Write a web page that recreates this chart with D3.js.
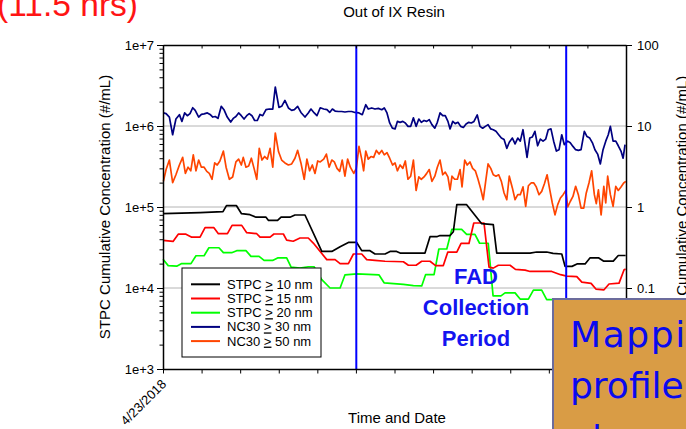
<!DOCTYPE html>
<html><head><meta charset="utf-8">
<script src="https://cdn.jsdelivr.net/npm/d3@7"></script>
<style>
html,body{margin:0;padding:0;background:#fff;overflow:hidden;}
svg{display:block;font-family:"Liberation Sans",Arial,sans-serif;}
</style></head><body>
<svg id="chart" width="686" height="429"></svg>
<script>
// ---------------- DATA ----------------
// NC30 series (right axis, #/mL); hours since 4/23/2018 start
const nc30Hours = [0.02,0.16,0.33,0.50,0.67,0.85,0.98,1.12,1.26,1.40,
  1.54,1.67,1.85,1.99,2.13,2.30,2.44,2.58,2.71,2.85,
  3.02,3.16,3.33,3.51,3.64,3.78,3.92,4.06,4.20,4.34,
  4.47,4.61,4.75,4.89,5.03,5.17,5.34,5.51,5.69,5.82,
  6.01,6.15,6.32,6.50,6.67,6.81,6.98,7.15,7.36,7.53,
  7.67,7.84,7.98,8.15,8.33,8.50,8.64,8.78,8.92,9.09,
  9.26,9.43,9.61,9.78,9.95,10.16,10.33,10.51,10.64,10.82,
  10.99,11.16,11.34,11.47,11.61,11.75,11.89,12.03,12.15,12.29,
  12.43,12.56,12.70,12.84,12.98,13.12,13.26,13.39,13.53,13.67,
  13.80,13.94,14.09,14.22,14.36,14.50,14.63,14.77,14.88,15.02,
  15.15,15.29,15.43,15.57,15.71,15.85,15.98,16.12,16.29,16.43,
  16.57,16.71,16.85,16.99,17.12,17.26,17.40,17.54,17.68,17.82,
  17.95,18.11,18.25,18.39,18.52,18.66,18.87,19.01,19.14,19.28,
  19.42,19.56,19.70,19.84,19.97,20.11,20.25,20.39,20.53,20.67,
  20.80,20.98,21.11,21.25,21.39,21.53,21.67,21.84,21.98,22.12,
  22.26,22.39,22.53,22.67,22.81,22.95,23.08,23.19,23.33,23.47,
  23.60,23.74,23.85,23.95];
const nc30Values = [14.5,14.2,12.9,7.8,12.2,13.8,11.4,14.5,13.4,14.2,
  16.8,15.6,12.9,13.9,14.1,14.5,13.9,12.9,13.1,12.4,
  17.5,15.9,12.9,11.2,12.4,13.1,14.5,13.4,12.2,13.4,
  14.2,13.4,11.7,11.7,13.9,13.4,15.9,16.2,16.2,30.3,
  17.0,17.5,20.7,16.7,15.6,15.9,17.5,14.7,12.9,14.5,
  16.2,14.5,13.4,16.8,16.2,15.9,14.7,16.2,15.3,15.1,
  15.1,14.9,15.1,15.1,14.7,14.5,13.8,18.3,16.2,16.7,
  16.2,16.5,15.9,16.7,14.5,10.9,9.4,9.2,11.4,11.1,
  11.4,10.9,9.9,9.9,12.6,9.9,12.2,11.1,11.7,11.4,
  12.0,10.4,9.4,11.1,14.5,13.4,13.4,11.4,9.2,11.4,
  10.7,11.1,9.9,9.6,10.6,11.1,10.9,11.4,13.7,9.9,
  9.4,9.9,10.4,9.2,9.0,8.6,7.8,7.1,6.8,5.3,
  6.3,7.1,6.0,7.1,6.5,9.0,4.1,7.1,7.3,8.6,
  5.7,6.9,6.5,6.9,9.0,9.2,6.5,4.9,5.1,7.8,
  5.9,6.5,6.2,5.6,5.1,5.0,5.1,8.6,7.4,7.1,
  6.2,5.1,4.5,3.4,5.1,6.5,7.8,9.9,6.5,6.5,
  5.7,4.9,4.0,5.9];
const nc50Hours = [0.02,0.16,0.33,0.50,0.67,0.85,1.02,1.16,1.30,1.44,
  1.57,1.71,1.85,1.99,2.13,2.27,2.40,2.54,2.68,2.81,
  2.95,3.13,3.27,3.44,3.61,3.78,3.92,4.06,4.16,4.30,
  4.44,4.58,4.72,4.86,4.99,5.13,5.27,5.41,5.55,5.69,
  5.82,5.99,6.15,6.32,6.50,6.67,6.84,6.98,7.15,7.32,
  7.46,7.60,7.74,7.88,8.02,8.15,8.33,8.47,8.61,8.75,
  8.88,9.02,9.16,9.29,9.43,9.57,9.71,9.89,10.02,10.16,
  10.30,10.40,10.51,10.64,10.78,10.92,11.06,11.20,11.34,11.47,
  11.61,11.75,11.90,12.03,12.15,12.29,12.43,12.56,12.70,12.84,
  12.98,13.12,13.26,13.39,13.53,13.67,13.80,13.94,14.09,14.22,
  14.36,14.50,14.63,14.77,14.88,14.98,15.12,15.26,15.40,15.50,
  15.64,15.77,15.91,16.05,16.19,16.33,16.47,16.60,16.74,16.85,
  16.99,17.12,17.26,17.40,17.54,17.68,17.82,17.95,18.11,18.25,
  18.39,18.52,18.66,18.80,18.94,19.08,19.22,19.35,19.49,19.63,
  19.77,19.91,20.05,20.18,20.32,20.46,20.60,20.74,20.88,20.98,
  21.11,21.25,21.39,21.53,21.67,21.81,21.94,22.08,22.22,22.36,
  22.46,22.57,22.71,22.85,22.95,23.05,23.19,23.33,23.47,23.60,
  23.74,23.88,23.99];
const nc50Values = [2.07,2.9,3.8,2.0,2.5,3.3,4.1,2.6,3.1,2.8,
  4.4,2.8,3.8,3.1,3.1,2.75,2.6,2.2,3.5,3.3,
  3.7,4.9,3.1,2.2,2.35,3.6,3.9,3.3,4.1,3.1,
  3.2,4.0,3.0,2.2,5.3,3.8,4.2,3.9,5.3,3.1,
  8.2,4.8,3.8,3.5,3.3,3.4,4.0,5.0,3.5,2.2,
  3.9,2.8,3.3,2.6,3.7,3.6,3.9,4.5,3.1,3.8,
  3.6,3.0,2.75,3.8,2.4,3.9,3.1,2.6,3.0,5.6,
  3.9,2.8,4.9,3.9,4.2,4.1,5.0,4.5,5.0,4.4,
  4.7,4.0,3.3,3.5,2.8,3.3,3.0,3.7,2.2,2.4,
  3.8,1.6,2.35,2.2,2.35,2.6,2.9,2.07,2.4,3.1,
  3.8,2.5,2.7,2.35,1.63,2.4,2.2,2.2,2.9,1.77,
  3.8,3.3,3.6,3.0,2.8,2.2,1.67,1.23,2.2,3.4,
  3.0,2.5,2.4,2.5,2.07,1.49,1.23,2.4,1.72,1.23,
  1.42,1.42,1.77,1.02,1.83,1.98,1.98,1.77,1.42,1.56,
  1.94,2.5,1.63,1.12,0.80,1.07,1.29,1.42,1.6,1.0,
  1.17,1.35,1.8,1.42,0.97,0.97,1.49,1.98,2.8,1.42,
  1.1,1.63,0.80,1.8,1.12,2.4,1.42,1.02,1.8,1.6,
  1.77,1.98,2.07];

// STPC series (left axis, #/mL), hours since 4/23/2018 start
const stpc10Hours = [0,1.92,3.11,3.29,3.81,4.07,4.51,4.82,5.34,5.47,5.94,6.12,6.58,6.84,7.36,8.23,8.75,9.18,9.61,10.04,10.30,10.73,10.99,11.51,11.77,12.11,12.29,13.58,13.84,14.19,14.36,14.88,15.05,15.23,15.74,16.52,17.12,17.30,19.03,19.37,19.89,20.22,20.67,20.84,21.20,21.46,21.88,22.14,22.57,22.83,23.34,23.60,23.98];
const stpc10Values = [82700,85000,87500,103800,103800,82700,80300,74800,74800,68300,68300,74800,74800,79700,79700,28300,28300,32400,36500,36500,28900,28900,26300,26300,28300,28300,27000,27000,43000,43000,44400,44400,49500,106700,106700,62200,60500,27000,27000,27800,27800,26800,26300,18500,18500,19800,19800,23600,23600,21500,21500,25200,25200];

const stpc15Hours = [0,0.52,0.79,1.19,1.49,1.92,2.18,2.64,2.87,3.34,3.58,4.08,4.34,4.86,5.03,5.55,5.75,6.24,6.41,6.75,7.10,7.53,7.79,8.49,8.92,9.18,9.61,9.87,10.30,10.56,10.99,11.51,12.46,12.72,13.12,13.41,13.84,14.13,14.53,14.76,15.23,15.45,15.86,16.11,16.64,16.90,17.12,17.38,17.99,18.27,18.77,19.03,20.15,20.61,20.93,21.45,21.71,22.19,22.44,22.86,23.12,23.64,23.90,23.98];
const stpc15Values = [38700,37600,46200,46200,42400,42400,55500,55500,46800,46800,59300,59300,48200,46800,42400,42400,46400,46400,38900,37800,41400,41400,35900,22400,22400,20000,20000,26300,26300,22400,21900,21400,21100,19100,19100,21400,21400,18900,18900,27700,27700,35500,35500,63500,63500,18100,17600,19100,19100,17000,16600,16000,16000,14600,14000,13800,11800,11400,9700,9500,11200,11500,16800,17100];

const stpc20Hours = [0,0.27,0.71,0.97,1.45,1.71,2.13,2.38,2.90,3.13,3.56,3.82,4.30,4.56,4.98,5.24,5.68,5.94,6.41,6.64,7.10,7.53,7.83,8.23,8.66,9.18,9.43,10.06,11.20,11.46,12.46,12.98,13.41,13.61,14.05,14.30,14.71,14.97,15.48,15.74,16.17,16.41,16.86,17.11,17.52,17.73,18.25,18.51,18.94,19.20,19.63,19.89,20.22,21,22,23,24];
const stpc20Values = [22700,18900,18600,20000,20000,25000,25000,31400,31400,27300,27300,28900,28900,24600,24600,21900,21900,23500,23500,18100,17600,18300,18300,12700,10000,10000,14500,14900,14500,11600,11100,10700,10600,14600,14600,30300,30300,52900,52900,45900,45900,35700,35700,8000,8000,8700,8700,7300,7300,9400,9400,7200,7200,6500,6300,6500,6200];

const seriesNames = ["STPC > 10 nm","STPC > 15 nm","STPC > 20 nm","NC30 > 30 nm","NC30 > 50 nm"];
const seriesColors = ["#000000","#ff0000","#00ff00","#000080","#ff4500"];
const fadMarkerHours = [10.02, 20.9];
const leftTickValues = [1e3,1e4,1e5,1e6,1e7];
const leftTickLabels = ["1e+3","1e+4","1e+5","1e+6","1e+7"];
const rightTickValues = [0.01,0.1,1,10,100];
const rightTickLabels = ["0.01","0.1","1","10","100"];
const xTickHours = [0,2,4,6,8,10,12,14,16,18,20,22,24];
const xTickLabels = ["4/23/2018","","","","","","","","","","","",""];

// ---------------- CHART ----------------
const svg = d3.select("#chart");
const L=163, R=626, T=45, B=369;
const x = d3.scaleLinear().domain([0,24]).range([L,R]);
const yL = d3.scaleLog().domain([1e3,1e7]).range([B,T]);
const yR = d3.scaleLog().domain([0.01,100]).range([B,T]);

// red caption top-left (cut off)
svg.append("text").attr("x",-3).attr("y",16).attr("font-size",33)
  .attr("textLength",141).attr("lengthAdjust","spacingAndGlyphs")
  .attr("fill","#ff1414").text("(11.5 hrs)");

// gridlines
svg.append("g").selectAll("line").data([1e4,1e5,1e6]).join("line")
  .attr("x1",L).attr("x2",R).attr("y1",d=>yL(d)).attr("y2",d=>yL(d))
  .attr("stroke","#b4b4b4").attr("stroke-width",1);

// lines
const lineL = d3.line().x(d=>x(d[0])).y(d=>yL(d[1]));
const lineR = d3.line().x(d=>x(d[0])).y(d=>yR(d[1]));
const zip = (hs,vs)=>hs.map((h,i)=>[h,vs[i]]);
const g = svg.append("g").attr("fill","none").attr("stroke-width",1.7).attr("stroke-linejoin","round");
g.append("path").attr("d",lineR(zip(nc50Hours,nc50Values))).attr("stroke",seriesColors[4]);
g.append("path").attr("d",lineR(zip(nc30Hours,nc30Values))).attr("stroke",seriesColors[3]);
g.append("path").attr("d",lineL(zip(stpc20Hours,stpc20Values))).attr("stroke",seriesColors[2]);
g.append("path").attr("d",lineL(zip(stpc15Hours,stpc15Values))).attr("stroke",seriesColors[1]);
g.append("path").attr("d",lineL(zip(stpc10Hours,stpc10Values))).attr("stroke",seriesColors[0]);

// FAD markers
svg.append("g").selectAll("line").data(fadMarkerHours).join("line")
  .attr("x1",d=>x(d)).attr("x2",d=>x(d)).attr("y1",T).attr("y2",B)
  .attr("stroke","#0000ff").attr("stroke-width",2);

// axes
function styleAxis(sel){
  sel.select(".domain").attr("stroke","#000").attr("stroke-width",1.5);
  sel.selectAll(".tick line").attr("stroke","#000").attr("stroke-width",1);
  sel.selectAll(".tick text").attr("fill","#000").attr("font-size",13)
     .attr("font-family","Liberation Sans, Arial, sans-serif");
}
const minor = [];
[1e3,1e4,1e5,1e6].forEach(d=>{for(let k=2;k<10;k++) minor.push(d*k);});
svg.append("g").attr("transform",`translate(${L},0)`)
  .call(d3.axisLeft(yL).tickValues(minor).tickSize(3.5).tickFormat("").tickSizeOuter(0))
  .call(s=>{s.select(".domain").remove(); s.selectAll(".tick line").attr("stroke","#000");});
svg.append("g").attr("transform",`translate(${L},0)`)
  .call(d3.axisLeft(yL).tickValues(leftTickValues).tickSize(6).tickPadding(3)
        .tickFormat((d,i)=>leftTickLabels[i]).tickSizeOuter(0))
  .call(styleAxis);
svg.append("g").attr("transform",`translate(${R},0)`)
  .call(d3.axisRight(yR).tickValues(rightTickValues).tickSize(6).tickPadding(5)
        .tickFormat((d,i)=>rightTickLabels[i]).tickSizeOuter(0))
  .call(styleAxis);
svg.append("g").attr("transform",`translate(0,${B})`)
  .call(d3.axisBottom(x).tickValues(xTickHours).tickSize(4.5).tickFormat("").tickSizeOuter(0))
  .call(styleAxis);
svg.append("g").attr("transform",`translate(0,${T})`)
  .call(d3.axisTop(x).tickValues(xTickHours).tickSize(-3.5).tickFormat("").tickSizeOuter(0))
  .call(styleAxis);
svg.append("g").selectAll("text").data(xTickHours.filter((d,i)=>xTickLabels[i])).join("text")
  .attr("transform",(d)=>`translate(${x(d)+4},${B+16}) rotate(-45)`)
  .attr("text-anchor","end").attr("font-size",13).text((d)=>xTickLabels[xTickHours.indexOf(d)]);

// titles
svg.append("text").attr("x",394).attr("y",17).attr("text-anchor","middle").attr("font-size",15).text("Out of IX Resin");
svg.append("text").attr("x",397).attr("y",423).attr("text-anchor","middle").attr("font-size",15).text("Time and Date");
svg.append("text").attr("transform","translate(110,207) rotate(-90)").attr("text-anchor","middle")
  .attr("font-size",15).text("STPC Cumulative Concentration (#/mL)");
svg.append("text").attr("transform","translate(687,207) rotate(-90)").attr("text-anchor","middle")
  .attr("font-size",15).text("NC30 Cumulative Concentration (#/mL)");

// legend
const lg = svg.append("g");
lg.append("rect").attr("x",182).attr("y",268).attr("width",139).attr("height",89)
  .attr("fill","#fff").attr("stroke","#000").attr("stroke-width",1);
const rows = lg.selectAll("g.row").data(seriesNames).join("g").attr("class","row")
  .attr("transform",(d,i)=>`translate(0,${284.3+i*14.2})`);
rows.append("line").attr("x1",191).attr("x2",220).attr("stroke",(d,i)=>seriesColors[i]).attr("stroke-width",2);
rows.append("text").attr("x",227).attr("y",4.5).attr("font-size",13).each(function(d){
  const parts = d.split(" > ");
  const t = d3.select(this);
  t.append("tspan").text(parts[0]+" ");
  t.append("tspan").attr("text-decoration","underline").text(">");
  t.append("tspan").text(" "+parts[1]);
});

// FAD annotation
const fadLines = ["FAD","Collection","Period"];
svg.append("g").selectAll("text").data(fadLines).join("text")
  .attr("x",476).attr("y",(d,i)=>284+i*31).attr("text-anchor","middle")
  .attr("font-size",22).attr("font-weight","bold").attr("fill","#1414f0").text(d=>d);

// overlay box
svg.append("rect").attr("x",553).attr("y",299).attr("width",150).attr("height",150)
  .attr("fill","#d99c45").attr("stroke","#6c6c9c").attr("stroke-width",2);
const boxLines = ["Mapping","profile","along"];
svg.append("g").selectAll("text").data(boxLines).join("text")
  .attr("x",570).attr("y",(d,i)=>[347,398,451][i]).attr("font-family","DejaVu Sans, sans-serif")
  .attr("letter-spacing",(d,i)=>i===0?1.6:0)
  .attr("font-size",36).attr("fill","#0a0aee").text(d=>d);
</script>
</body></html>
